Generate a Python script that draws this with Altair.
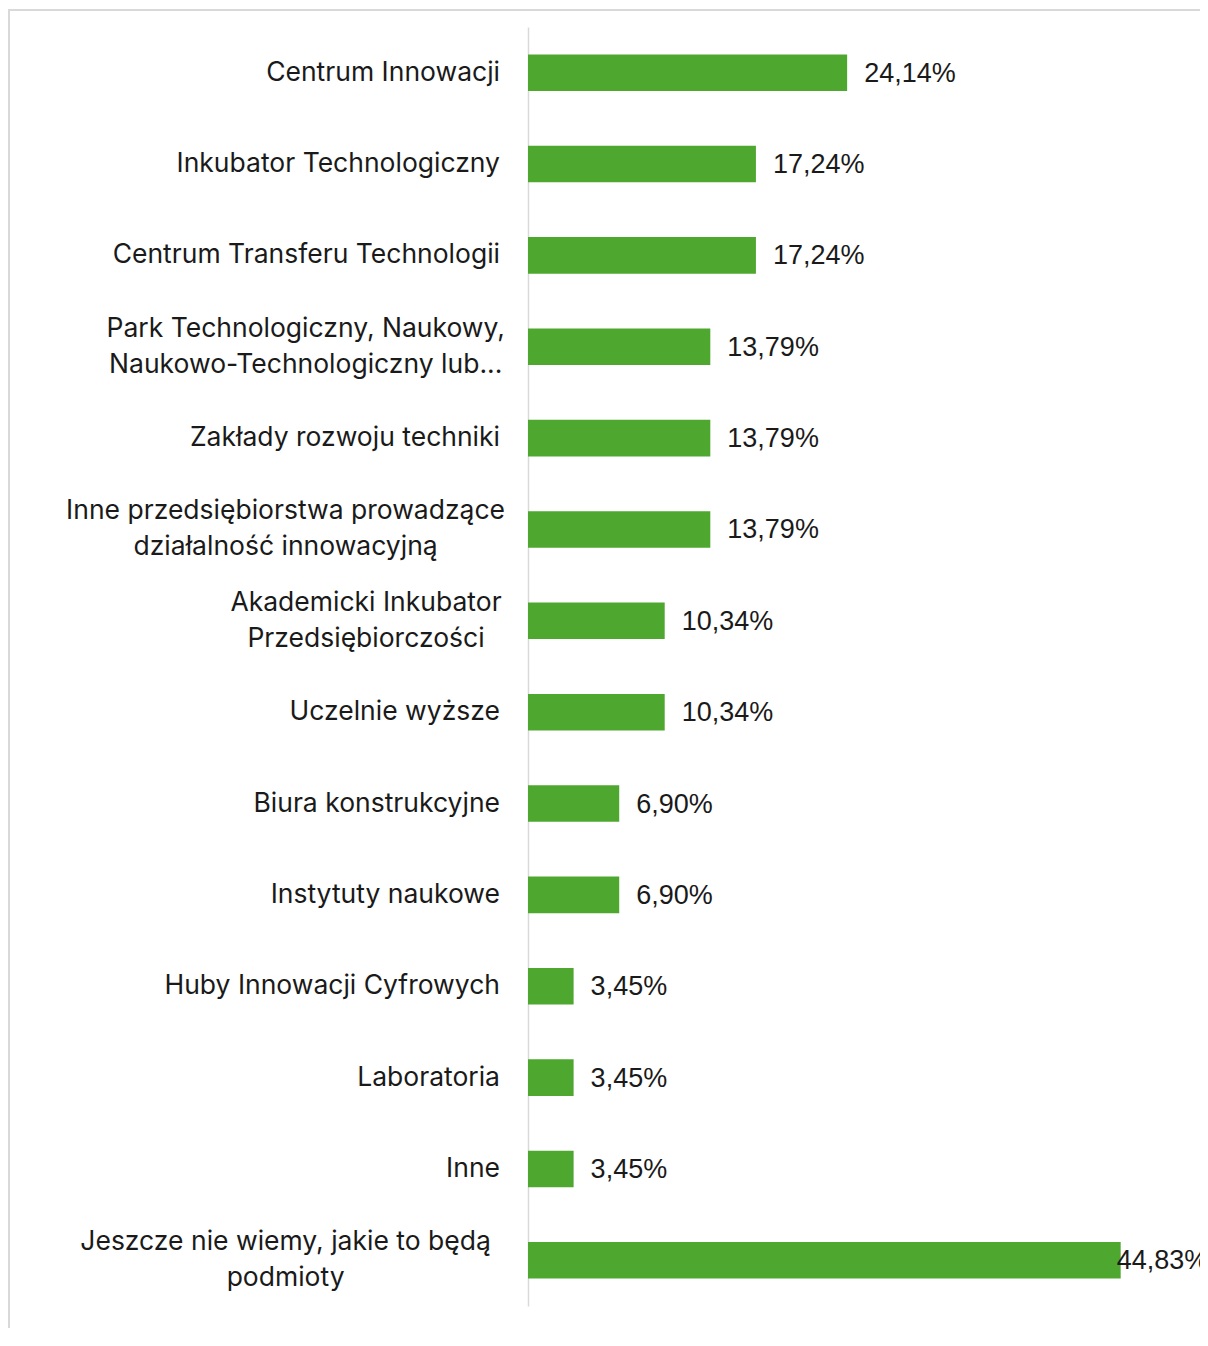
import altair as alt
import pandas as pd

categories = [
    "Centrum Innowacji",
    "Inkubator Technologiczny",
    "Centrum Transferu Technologii",
    "Park Technologiczny, Naukowy,|Naukowo-Technologiczny lub...",
    "Zakłady rozwoju techniki",
    "Inne przedsiębiorstwa prowadzące|działalność innowacyjną",
    "Akademicki Inkubator|Przedsiębiorczości",
    "Uczelnie wyższe",
    "Biura konstrukcyjne",
    "Instytuty naukowe",
    "Huby Innowacji Cyfrowych",
    "Laboratoria",
    "Inne",
    "Jeszcze nie wiemy, jakie to będą|podmioty",
]
values = [24.14, 17.24, 17.24, 13.79, 13.79, 13.79, 10.34, 10.34, 6.90, 6.90, 3.45, 3.45, 3.45, 44.83]
value_labels = ["24,14%", "17,24%", "17,24%", "13,79%", "13,79%", "13,79%", "10,34%", "10,34%",
                "6,90%", "6,90%", "3,45%", "3,45%", "3,45%", "44,83%"]

df = pd.DataFrame({"category": categories, "value": values, "label": value_labels})

FONT = "Inter"
VFONT = "Liberation Sans"
GREEN = "#4EA72E"
TEXT = "#1a1a1a"

xscale = alt.Scale(domain=[0, 50.83], nice=False, zero=True)
ysc = alt.Scale(paddingInner=0.6, paddingOuter=0.3)

base = alt.Chart(df)

yenc = alt.Y(
    "category:N",
    sort=None,
    scale=ysc,
    axis=alt.Axis(
        title=None,
        ticks=False,
        labels=False,
        domainColor="#d9d9d9",
        domainWidth=1.5,
        grid=False,
    ),
)
ycat = alt.Y("category:N", sort=None)

bars = base.mark_bar(color=GREEN).encode(
    x=alt.X("value:Q", scale=xscale, axis=None),
    y=yenc,
)

# category labels: right-aligned block, lines centred within multi-line blocks
lab = base.transform_calculate(
    lines="split(datum.category, '|')"
).transform_calculate(
    nlines="length(datum.lines)",
    cx="length(datum.lines) > 1 ? -28 - length(datum.lines[0]) * 6.7 : -28",
)
cat_single = lab.transform_filter("datum.nlines == 1").mark_text(
    align="right", baseline="middle", fontSize=26.5, font=FONT, color=TEXT
).encode(x=alt.X("cx:Q", scale=None), y=ycat, text="category:N")

cat_multi = lab.transform_filter("datum.nlines > 1").mark_text(
    align="center", baseline="middle", dy=-18, lineHeight=36,
    fontSize=26.5, font=FONT, color=TEXT
).encode(x=alt.X("cx:Q", scale=None), y=ycat, text="lines:N")

labels_out = base.transform_filter("datum.value < 40").mark_text(
    align="left", baseline="middle", dx=17, dy=1, fontSize=27, font=VFONT, color=TEXT
).encode(x=alt.X("value:Q", scale=xscale), y=ycat, text="label:N")

labels_in = base.transform_filter("datum.value >= 40").mark_text(
    align="left", baseline="middle", dx=-4, dy=1, fontSize=27, font=VFONT, color=TEXT
).encode(x=alt.X("value:Q", scale=xscale), y=ycat, text="label:N")

frame = alt.Chart(pd.DataFrame({"a": [0]})).mark_rect(
    fill=None, stroke="#d9d9d9", strokeWidth=2, clip=False
).encode(
    x=alt.value(-519), x2=alt.value(900), y=alt.value(-17), y2=alt.value(1500)
)

chart = alt.layer(frame, bars, cat_single, cat_multi, labels_out, labels_in).properties(
    width=672,
    height=1279,
    padding={"left": 520, "top": 19, "right": 0, "bottom": 22},
    autosize=alt.AutoSizeParams(type="none"),
).configure_view(stroke=None)

chart.save("out.html", embed_options={"renderer": "svg", "actions": False})
